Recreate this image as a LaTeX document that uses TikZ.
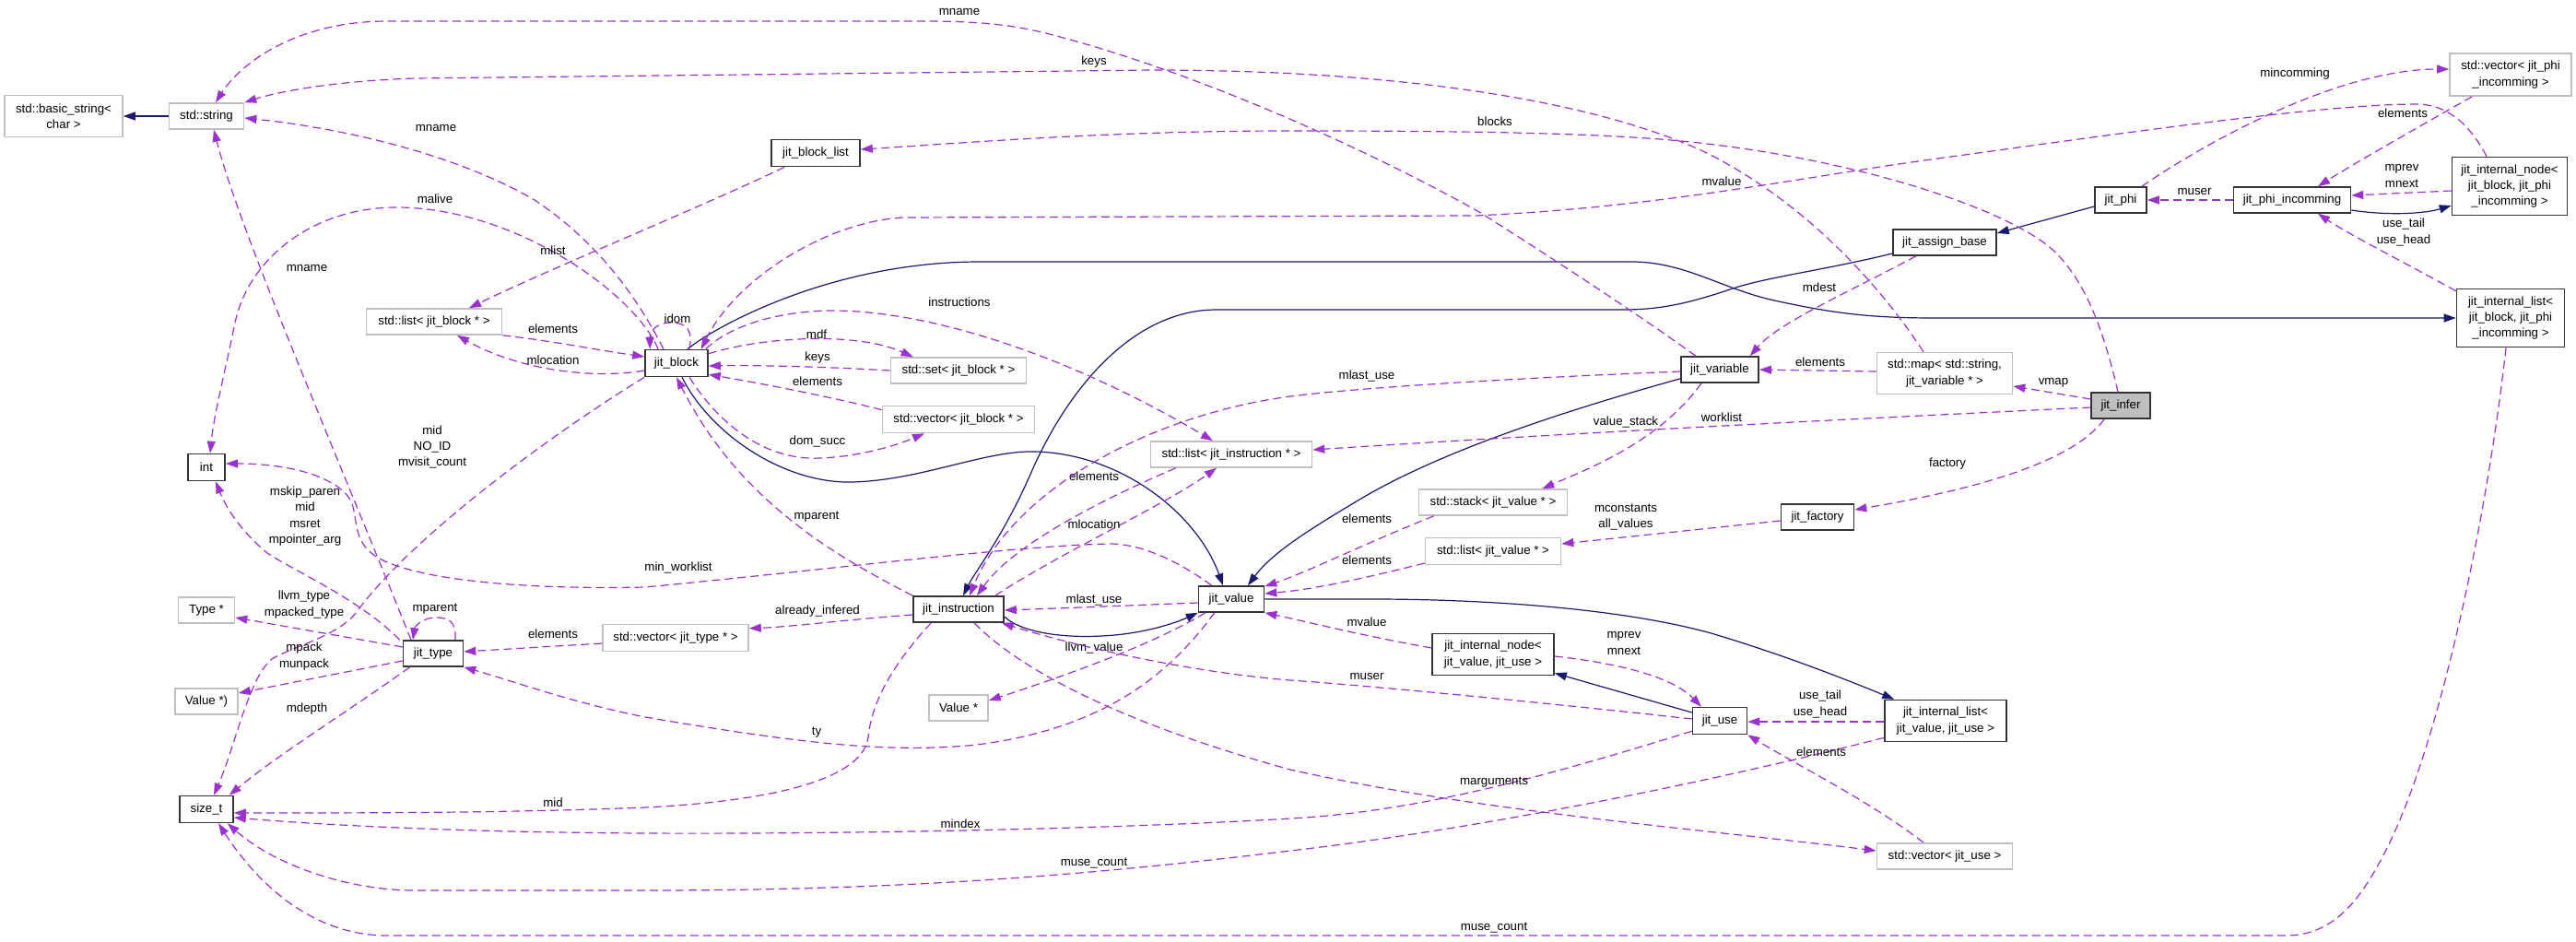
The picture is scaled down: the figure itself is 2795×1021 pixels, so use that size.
\documentclass[tikz,border=0pt]{standalone}
\usepackage{fontspec}
\setmainfont{Liberation Sans}
\usetikzlibrary{arrows.meta,calc}
\definecolor{memc}{HTML}{9A32CD}
\definecolor{inhc}{HTML}{191970}
\definecolor{undoc}{HTML}{BFBFBF}
\begin{document}
\begin{tikzpicture}[x=1pt,y=-1pt,
 every node/.style={font=\fontsize{13.3}{17.3}\selectfont},
 cls/.style={draw=black!80, line width=1.6pt, fill=white, rectangle, inner sep=0pt, align=center},
 ucls/.style={cls, draw=undoc},
 memedge/.style={draw=memc, line width=1.2pt, dash pattern=on 9pt off 5pt, -{Triangle[length=13pt,width=9pt]}},
 inhedge/.style={draw=inhc, line width=1.2pt, -{Triangle[length=13pt,width=9pt]}},
 lbl/.style={inner sep=0pt, align=center}]
\useasboundingbox (0,0) rectangle (2795,1021);
% ---------------- nodes ----------------
\node[ucls, minimum width=128pt, minimum height=45pt] (bstr) at (69,126) {std::basic\_string<\\char >};
\node[ucls, minimum width=81pt, minimum height=28pt] (str) at (224,126) {std::string};
\node[cls, minimum width=96pt, minimum height=29pt] (bl) at (885,166) {jit\_block\_list};
\node[ucls, minimum width=147pt, minimum height=28pt] (lblk) at (471,349) {std::list< jit\_block * >};
\node[cls, minimum width=68pt, minimum height=29pt] (blk) at (734,394) {jit\_block};
\node[cls, minimum width=40pt, minimum height=29pt] (int) at (224,507) {int};
\node[ucls, minimum width=61pt, minimum height=28pt] (typ) at (224,662) {Type *};
\node[ucls, minimum width=68pt, minimum height=28pt] (vfn) at (224,761) {Value *)};
\node[cls, minimum width=58pt, minimum height=29pt] (sz) at (224,878) {size\_t};
\node[cls, minimum width=65pt, minimum height=28pt] (jt) at (470,709) {jit\_type};
\node[ucls, minimum width=158pt, minimum height=29pt] (vtyp) at (733,692) {std::vector< jit\_type * >};
\node[ucls, minimum width=147pt, minimum height=28pt] (set) at (1040,402) {std::set< jit\_block * >};
\node[ucls, minimum width=165pt, minimum height=29pt] (vblk) at (1040,455) {std::vector< jit\_block * >};
\node[ucls, minimum width=175pt, minimum height=28pt] (linst) at (1336,493) {std::list< jit\_instruction * >};
\node[cls, minimum width=98pt, minimum height=28pt] (inst) at (1040,661) {jit\_instruction};
\node[cls, minimum width=71pt, minimum height=28pt] (val) at (1336,650) {jit\_value};
\node[ucls, minimum width=64pt, minimum height=28pt] (valp) at (1040,768) {Value *};
\node[cls, minimum width=84pt, minimum height=28pt] (var) at (1866,401) {jit\_variable};
\node[ucls, minimum width=147pt, minimum height=45pt] (map) at (2110,405) {std::map< std::string,\\ jit\_variable * >};
\node[ucls, minimum width=161pt, minimum height=28pt] (stk) at (1620,545) {std::stack< jit\_value * >};
\node[ucls, minimum width=147pt, minimum height=29pt] (lval) at (1620,598) {std::list< jit\_value * >};
\node[cls, minimum width=79pt, minimum height=28pt] (fac) at (1972,561) {jit\_factory};
\node[cls, fill=undoc, minimum width=64pt, minimum height=28pt] (inf) at (2301,440) {jit\_infer};
\node[cls, minimum width=112pt, minimum height=28pt] (asg) at (2110,263) {jit\_assign\_base};
\node[cls, minimum width=56pt, minimum height=28pt] (phi) at (2301,217) {jit\_phi};
\node[cls, minimum width=127pt, minimum height=28pt] (phin) at (2487,217) {jit\_phi\_incomming};
\node[ucls, minimum width=132pt, minimum height=46pt] (vphi) at (2724,81) {std::vector< jit\_phi\\ \_incomming >};
\node[cls, minimum width=125pt, minimum height=63pt] (nodeb) at (2723,202) {jit\_internal\_node<\\ jit\_block, jit\_phi\\ \_incomming >};
\node[cls, minimum width=117pt, minimum height=63pt] (listb) at (2724,345) {jit\_internal\_list<\\ jit\_block, jit\_phi\\ \_incomming >};
\node[cls, minimum width=132pt, minimum height=45pt] (nodev) at (1620,710) {jit\_internal\_node<\\ jit\_value, jit\_use >};
\node[cls, minimum width=59pt, minimum height=29pt] (use) at (1866,782) {jit\_use};
\node[cls, minimum width=132pt, minimum height=45pt] (listv) at (2111,782) {jit\_internal\_list<\\ jit\_value, jit\_use >};
\node[ucls, minimum width=147pt, minimum height=28pt] (vuse) at (2110,929) {std::vector< jit\_use >};
% ---------------- inheritance edges ----------------
\draw[inhedge] (str.west) -- (bstr.east);
\draw[inhedge] ($(blk.north)+(12,0)$) .. controls (775,355) and (900,285) .. (1060,284) -- (1770,284) .. controls (1830,284) and (1870,315) .. (1930,327) .. controls (1990,340) and (2030,345) .. (2100,345) -- (listb.west);
\draw[inhedge] ($(blk.south)+(6,0)$) .. controls (770,470) and (850,525) .. (925,523) .. controls (1000,521) and (1070,488) .. (1124,490) .. controls (1220,493) and (1300,560) .. ($(val.north)+(-9,0)$);
\draw[inhedge] ($(inst.east)+(0,8)$) .. controls (1110,688) and (1160,692) .. (1195,690) .. controls (1240,688) and (1275,676) .. (val.south west);
\draw[inhedge] ($(var.south west)+(0,-5)$) .. controls (1700,445) and (1560,490) .. (1470,545) .. controls (1420,575) and (1380,600) .. ($(val.north)+(18,0)$);
\draw[inhedge] ($(asg.west)+(0,12)$) .. controls (1980,293) and (1920,300) .. (1880,313) .. controls (1830,330) and (1800,336) .. (1760,336) -- (1320,336) .. controls (1230,336) and (1160,420) .. (1120,510) .. controls (1090,580) and (1058,620) .. ($(inst.north)+(5,0)$);
\draw[inhedge] ($(phi.west)+(0,7)$) -- ($(asg.east)+(0,-10)$);
\draw[inhedge] ($(phin.east)+(0,11)$) .. controls (2590,234) and (2630,232) .. ($(nodeb.west)+(0,21)$);
\draw[inhedge] ($(use.west)+(0,-9)$) -- ($(nodev.south east)+(0,-3)$);
\draw[inhedge] (val.east) -- (1500,650) .. controls (1650,651) and (1780,665) .. (1860,688) .. controls (1940,712) and (2010,740) .. ($(listv.north west)+(11,0)$);
% ---------------- member edges ----------------
\draw[memedge] ($(var.north)+(-26,0)$) .. controls (1790,350) and (1700,290) .. (1605,230) .. controls (1480,160) and (1300,80) .. (1150,40) .. controls (1100,26) and (1060,23) .. (1000,23) -- (420,23) .. controls (320,23) and (260,70) .. ($(str.north)+(10,0)$);
\node[lbl] (l1) at (1041,13) {mname};
\draw[memedge] ($(map.north)+(-23,0)$) .. controls (2040,310) and (1960,220) .. (1850,165) .. controls (1720,105) and (1500,76) .. (1250,76) -- (450,85) .. controls (360,88) and (300,100) .. (str.north east);
\node[lbl] (l2) at (1187,67) {keys};
\draw[memedge] ($(blk.north)+(-14,0)$) .. controls (700,340) and (660,270) .. (580,217) .. controls (500,170) and (380,140) .. ($(str.east)+(0,2)$);
\node[lbl] (l3) at (473,139) {mname};
\draw[memedge] ($(blk.north)+(-20,0)$) .. controls (690,320) and (560,225) .. (430,225) .. controls (340,225) and (270,280) .. (255,350) .. controls (245,400) and (232,450) .. ($(int.north)+(4,0)$);
\node[lbl] (l4) at (472,216) {malive};
\draw[memedge] ($(jt.north)+(-24,0)$) .. controls (360,480) and (260,250) .. ($(str.south)+(8,0)$);
\node[lbl] (l5) at (333,291) {mname};
\draw[memedge] ($(bl.south west)+(15,0)$) .. controls (760,225) and (600,290) .. ($(lblk.north)+(38,0)$);
\node[lbl] (l6) at (600,272) {mlist};
\draw[memedge] (lblk.south east) .. controls (600,370) and (650,380) .. ($(blk.west)+(0,-7)$);
\node[lbl] (l7) at (600,357) {elements};
\draw[memedge] ($(blk.west)+(0,8)$) .. controls (640,412) and (560,400) .. ($(lblk.south)+(25,0)$);
\node[lbl] (l8) at (600,391) {mlocation};
\draw[memedge] (blk.south west) .. controls (600,470) and (450,580) .. (390,660) .. controls (370,690) and (320,700) .. (295,715) .. controls (270,735) and (255,810) .. ($(sz.north)+(8,0)$);
\node[lbl] (l9) at (469,485) {mid\\NO\_ID\\mvisit\_count};
\draw[memedge] ($(jt.west)+(0,8)$) -- ($(vfn.east)+(0,-9)$);
\node[lbl] (l10) at (330,712) {mpack\\munpack};
\draw[memedge] ($(jt.south west)+(8,0)$) .. controls (380,770) and (300,820) .. ($(sz.north east)+(-5,0)$);
\node[lbl] (l11) at (333,769) {mdepth};
\draw[memedge] ($(jt.west)+(0,-7)$) -- ($(typ.east)+(0,8)$);
\node[lbl] (l12) at (330,656) {llvm\_type\\mpacked\_type};
\draw[memedge] ($(jt.north west)+(-3,0)$) .. controls (390,650) and (320,620) .. (290,600) .. controls (260,575) and (245,550) .. ($(int.south)+(10,0)$);
\node[lbl] (l13) at (331,560) {mskip\_paren\\mid\\msret\\mpointer\_arg};
\draw[memedge] ($(jt.north)+(24,0)$) .. controls (495,675) and (488,670) .. (473,670) .. controls (458,670) and (450,680) .. ($(jt.north)+(-22,0)$);
\node[lbl] (l14) at (472,661) {mparent};
\draw[memedge] ($(val.north west)+(15,0)$) .. controls (1280,610) and (1240,590) .. (1204,590) .. controls (1100,592) and (900,618) .. (700,637) .. controls (560,640) and (450,628) .. (410,605) .. controls (385,590) and (388,570) .. (383,550) .. controls (378,525) and (330,503) .. ($(int.east)+(0,-4)$);
\node[lbl] (l15) at (736,616) {min\_worklist};
\draw[memedge] ($(blk.north)+(14,0)$) .. controls (752,358) and (745,350) .. (728,350) .. controls (712,350) and (705,360) .. ($(blk.north west)+(6,0)$);
\node[lbl] (l16) at (735,346) {idom};
\draw[memedge] ($(nodeb.north)+(-25,0)$) .. controls (2680,135) and (2655,113) .. (2622,113) .. controls (2520,113) and (2300,145) .. (2095,173) .. controls (1950,193) and (1800,225) .. (1600,234) -- (980,236) .. controls (900,240) and (800,300) .. ($(blk.north east)+(-8,0)$);
\node[lbl] (l17) at (1868,197) {mvalue};
\draw[memedge] ($(blk.north east)+(0,5)$) .. controls (830,365) and (930,360) .. ($(set.north west)+(25,0)$);
\node[lbl] (l18) at (886,363) {mdf};
\draw[memedge] (set.west) .. controls (900,398) and (820,396) .. ($(blk.east)+(0,3)$);
\node[lbl] (l19) at (887,388) {keys};
\draw[memedge] ($(vblk.north west)+(0,5)$) .. controls (900,430) and (820,415) .. ($(blk.south east)+(0,-3)$);
\node[lbl] (l20) at (887,414) {elements};
\draw[memedge] ($(blk.south)+(14,0)$) .. controls (780,460) and (830,500) .. (890,497) .. controls (940,495) and (980,480) .. ($(vblk.south)+(-37,0)$);
\node[lbl] (l21) at (887,479) {dom\_succ};
\draw[memedge] ($(blk.north east)+(-3,0)$) .. controls (790,355) and (840,338) .. (900,337) .. controls (1000,336) and (1150,380) .. ($(linst.north)+(-20,0)$);
\node[lbl] (l22) at (1041,328) {instructions};
\draw[memedge] (inst.north west) .. controls (900,600) and (800,540) .. (blk.south);
\node[lbl] (l23) at (886,561) {mparent};
\draw[memedge] ($(linst.south west)+(28,0)$) .. controls (1200,540) and (1100,590) .. ($(inst.north)+(20,0)$);
\node[lbl] (l24) at (1187,517) {elements};
\draw[memedge] ($(inst.north east)+(-10,0)$) .. controls (1150,600) and (1260,550) .. ($(linst.south)+(-16,0)$);
\node[lbl] (l25) at (1187,569) {mlocation};
\draw[memedge] ($(var.west)+(0,2)$) .. controls (1650,410) and (1480,420) .. (1400,430) .. controls (1250,450) and (1100,530) .. ($(inst.north)+(12,0)$);
\node[lbl] (l26) at (1483,408) {mlast\_use};
\draw[memedge] ($(val.west)+(0,4)$) .. controls (1220,657) and (1150,660) .. ($(inst.east)+(0,1)$);
\node[lbl] (l27) at (1187,651) {mlast\_use};
\draw[memedge] ($(inst.west)+(0,6)$) .. controls (920,672) and (860,680) .. ($(vtyp.north east)+(0,5)$);
\node[lbl] (l28) at (887,663) {already\_infered};
\draw[memedge] ($(vtyp.west)+(0,6)$) -- ($(jt.east)+(0,-2)$);
\node[lbl] (l29) at (600,688) {elements};
\draw[memedge] ($(val.south west)+(18,0)$) .. controls (1270,730) and (1200,790) .. (1060,808) .. controls (960,818) and (860,805) .. (700,778) .. controls (620,762) and (560,740) .. (jt.south east);
\node[lbl] (l30) at (886,795) {ty};
\draw[memedge] ($(val.south west)+(8,0)$) .. controls (1250,700) and (1150,735) .. ($(valp.east)+(0,-8)$);
\node[lbl] (l31) at (1187,703) {llvm\_value};
\draw[memedge] ($(inst.south west)+(20,0)$) .. controls (960,730) and (945,770) .. (942,800) .. controls (935,850) and (820,870) .. (700,876) .. controls (550,882) and (400,882) .. ($(sz.east)+(0,4)$);
\node[lbl] (l32) at (600,871) {mid};
\draw[memedge] ($(use.south west)+(0,-4)$) .. controls (1700,835) and (1550,880) .. (1400,888) .. controls (1200,900) and (900,905) .. (700,904) .. controls (500,903) and (350,895) .. ($(sz.east)+(0,9)$);
\node[lbl] (l33) at (1042,894) {mindex};
\draw[memedge] ($(listv.south west)+(0,-5)$) .. controls (1850,850) and (1600,900) .. (1400,923) .. controls (1200,947) and (1000,966) .. (700,966) -- (450,966) .. controls (380,966) and (300,940) .. ($(sz.south east)+(-7,0)$);
\node[lbl] (l34) at (1187,937) {muse\_count};
\draw[memedge] ($(listb.south)+(-5,0)$) .. controls (2700,550) and (2650,800) .. (2590,920) .. controls (2560,980) and (2530,1015) .. (2480,1015) -- (420,1015) .. controls (340,1015) and (280,960) .. ($(sz.south)+(13,0)$);
\node[lbl] (l35) at (1621,1007) {muse\_count};
\draw[memedge] ($(inst.south)+(17,0)$) .. controls (1100,720) and (1200,780) .. (1400,835) .. controls (1600,880) and (1850,900) .. ($(vuse.west)+(0,-6)$);
\node[lbl] (l36) at (1621,849) {marguments};
\draw[memedge] ($(vuse.north)+(-23,0)$) .. controls (2030,870) and (1950,830) .. (use.south east);
\node[lbl] (l37) at (1976,816) {elements};
\draw[memedge] ($(listv.west)+(0,1)$) -- ($(use.east)+(0,1)$);
\node[lbl] (l38) at (1975,764) {use\_tail\\use\_head};
\draw[memedge] ($(nodev.east)+(0,2)$) .. controls (1760,720) and (1815,735) .. ($(use.north)+(-20,0)$);
\node[lbl] (l39) at (1762,698) {mprev\\mnext};
\draw[memedge] ($(use.west)+(0,-2)$) .. controls (1700,765) and (1500,745) .. (1400,738) .. controls (1300,730) and (1180,705) .. ($(inst.south east)+(-3,0)$);
\node[lbl] (l40) at (1483,734) {muser};
\draw[memedge] ($(nodev.west)+(0,-7)$) .. controls (1480,690) and (1420,675) .. (val.south east);
\node[lbl] (l41) at (1483,675) {mvalue};
\draw[memedge] ($(stk.south west)+(17,0)$) .. controls (1480,590) and (1420,620) .. ($(val.north east)+(0,1)$);
\node[lbl] (l42) at (1483,563) {elements};
\draw[memedge] ($(lval.west)+(0,13)$) .. controls (1470,630) and (1420,640) .. ($(val.east)+(0,-6)$);
\node[lbl] (l43) at (1483,608) {elements};
\draw[memedge] ($(var.south)+(-20,0)$) .. controls (1800,480) and (1720,510) .. ($(stk.north east)+(-28,0)$);
\node[lbl] (l44) at (1764,458) {value\_stack};
\draw[memedge] ($(asg.south)+(-31,0)$) .. controls (2000,320) and (1930,350) .. ($(var.north east)+(-10,0)$);
\node[lbl] (l45) at (1974,312) {mdest};
\draw[memedge] ($(map.west)+(0,-2)$) -- (var.east);
\node[lbl] (l46) at (1975,393) {elements};
\draw[memedge] ($(inf.west)+(0,-7)$) -- ($(map.east)+(0,14)$);
\node[lbl] (l47) at (2228,415) {vmap};
\draw[memedge] ($(inf.west)+(0,2)$) .. controls (2000,455) and (1700,470) .. ($(linst.east)+(0,-5)$);
\node[lbl] (l48) at (1868,453) {worklist};
\draw[memedge] ($(inf.south west)+(15,0)$) .. controls (2250,500) and (2150,530) .. ($(fac.east)+(0,-8)$);
\node[lbl] (l49) at (2113,503) {factory};
\draw[memedge] ($(fac.west)+(0,4)$) -- ($(lval.east)+(0,-8)$);
\node[lbl] (l50) at (1764,561) {mconstants\\all\_values};
\draw[memedge] ($(inf.north)+(-3,0)$) .. controls (2285,370) and (2265,300) .. (2220,265) .. controls (2160,220) and (2000,170) .. (1824,153) .. controls (1720,143) and (1550,142) .. (1400,142) .. controls (1200,142) and (1050,155) .. ($(bl.east)+(0,-4)$);
\node[lbl] (l51) at (1622,132) {blocks};
\draw[memedge] ($(phi.north east)+(-6,0)$) .. controls (2400,150) and (2540,75) .. ($(vphi.west)+(0,-6)$);
\node[lbl] (l52) at (2490,80) {mincomming};
\draw[memedge] ($(vphi.south west)+(25,0)$) .. controls (2620,140) and (2550,180) .. ($(phin.north)+(28,0)$);
\node[lbl] (l53) at (2607,123) {elements};
\draw[memedge] ($(nodeb.west)+(0,5)$) -- ($(phin.east)+(0,-5)$);
\node[lbl] (l54) at (2606,191) {mprev\\mnext};
\draw[memedge] ($(listb.north west)+(0,3)$) .. controls (2600,280) and (2550,255) .. ($(phin.south)+(28,0)$);
\node[lbl] (l55) at (2608,252) {use\_tail\\use\_head};
\draw[memedge] (phin.west) -- (phi.east);
\node[lbl] (l56) at (2381,208) {muser};
\end{tikzpicture}
\end{document}
